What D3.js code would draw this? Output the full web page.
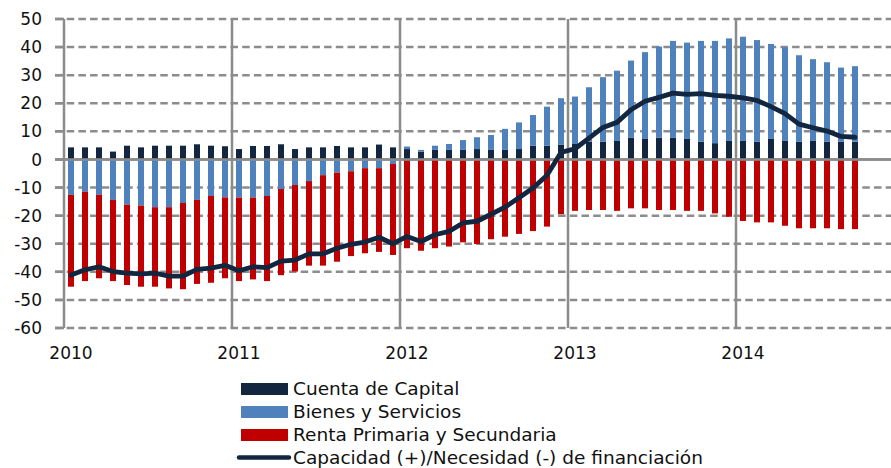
<!DOCTYPE html>
<html><head><meta charset="utf-8">
<script src="https://cdn.jsdelivr.net/npm/d3@7"></script>
<style>
html,body{margin:0;padding:0;background:#fff;}
svg{display:block;}
text{font-family:"DejaVu Sans",Verdana,sans-serif;fill:#111;}
</style></head>
<body>
<svg id="chart" width="891" height="468"></svg>
<script>
// Monthly data, Jan 2010 - Sep 2014
const startYear = 2010;
const yearLabels = ["2010","2011","2012","2013","2014"];
const yTicks = [50,40,30,20,10,0,-10,-20,-30,-40,-50,-60];
const capital = [
  4.3,4.3,4.3,2.8,4.9,4.3,4.9,4.9,4.9,5.4,4.9,4.7,
  3.7,4.8,4.8,5.4,3.7,4.3,4.3,4.8,4.3,4.3,5.3,4.3,
  3.7,2.8,3.4,3.4,3.4,3.7,3.4,3.4,3.7,4.9,4.9,5.2,
  5.5,6.3,6.3,6.6,7.8,7.3,7.8,7.8,7.3,6.3,5.8,6.6,
  6.6,6.3,7.3,6.6,6.3,6.6,6.3,6.3,6.3
];
const goods = [
  -12.6,-11.5,-12.6,-14.4,-16.1,-16.4,-17.0,-17.0,-15.5,-14.4,-13.0,-13.5,
  -13.6,-13.6,-13.0,-10.5,-9.1,-7.7,-5.6,-4.7,-4.2,-3.1,-3.1,-1.6,
  0.9,0.6,1.5,2.1,3.5,4.2,5.3,7.5,9.5,10.9,13.9,16.6,
  16.9,19.4,23.0,25.0,27.4,30.9,32.4,34.4,34.3,35.9,36.4,36.5,
  37.1,36.2,33.8,33.3,30.8,29.1,28.3,26.4,26.9
];
const renta = [
  -32.7,-31.8,-29.7,-28.9,-28.6,-28.9,-28.3,-28.9,-30.7,-29.9,-30.9,-28.8,
  -29.7,-29.1,-30.3,-30.7,-30.8,-30.1,-32.2,-31.7,-30.2,-30.3,-29.8,-32.4,
  -31.6,-32.5,-31.6,-31.0,-29.5,-30.1,-28.4,-27.5,-26.5,-25.5,-23.9,-19.5,
  -18.3,-18.0,-18.0,-18.3,-17.4,-17.4,-18.0,-18.0,-18.3,-18.3,-19.2,-20.4,
  -21.9,-22.4,-22.4,-23.6,-24.5,-24.5,-24.5,-24.8,-24.8
];
const financing = [
  -41.1,-39.3,-38.2,-39.9,-40.5,-40.7,-40.5,-41.5,-41.5,-39.1,-38.7,-37.7,
  -39.6,-38.2,-38.5,-36.2,-35.8,-33.6,-33.6,-31.6,-30.2,-29.4,-27.7,-30.0,
  -27.4,-29.2,-26.8,-25.6,-22.6,-22.0,-19.5,-17.0,-13.6,-10.2,-5.6,2.5,
  3.8,7.6,11.4,13.2,17.7,20.7,22.1,23.6,23.2,23.4,22.8,22.5,
  21.9,21.0,18.8,16.3,12.6,11.3,10.1,8.2,7.9
];
const seriesNames = ["Cuenta de Capital","Bienes y Servicios","Renta Primaria y Secundaria","Capacidad (+)/Necesidad (-) de financiación"];
const colors = {capital:"#13263f", goods:"#4f81bd", renta:"#c00000", line:"#13263f"};

const svg = d3.select("#chart");
const x = d3.scaleLinear().domain([0, 60]).range([64, 904]);
const y = d3.scaleLinear().domain([-60, 50]).range([328, 19]);
const gridColor = "#8c8c8c";
const barW = 6;

// horizontal dashed gridlines
svg.append("g").selectAll("line").data(yTicks).join("line")
  .attr("x1", 55).attr("x2", 891)
  .attr("y1", d => y(d)).attr("y2", d => y(d))
  .attr("stroke", gridColor).attr("stroke-width", 2.5)
  .attr("stroke-dasharray", d => d === 0 ? null : "7.5,4.2");

// left tick marks
svg.append("g").selectAll("line").data(yTicks).join("line")
  .attr("x1", 55).attr("x2", 64)
  .attr("y1", d => y(d)).attr("y2", d => y(d))
  .attr("stroke", gridColor).attr("stroke-width", 2.5);

// vertical year lines
svg.append("g").selectAll("line").data(d3.range(0, 5)).join("line")
  .attr("x1", d => x(d*12)).attr("x2", d => x(d*12))
  .attr("y1", y(50)).attr("y2", y(-60))
  .attr("stroke", gridColor).attr("stroke-width", 2.5);

// y labels
svg.append("g").selectAll("text").data(yTicks).join("text")
  .attr("x", 42).attr("y", d => y(d)).attr("dy", "0.36em")
  .attr("text-anchor", "end").attr("font-size", 17)
  .text(d => d);

// x labels
svg.append("g").selectAll("text").data(yearLabels).join("text")
  .attr("x", (d,i) => x(i*12 + 0.5)).attr("y", 359)
  .attr("text-anchor", "middle").attr("font-size", 17)
  .text(d => d);

// bars
const months = d3.range(capital.length);
const bars = svg.append("g");
months.forEach(i => {
  const cx = x(i + 0.5);
  const c = capital[i], g = goods[i], r = renta[i];
  const rects = [];
  rects.push({y0: 0, y1: c, col: colors.capital});
  if (g >= 0) {
    rects.push({y0: c, y1: c + g, col: colors.goods});
    rects.push({y0: 0, y1: r, col: colors.renta});
  } else {
    rects.push({y0: 0, y1: g, col: colors.goods});
    rects.push({y0: g, y1: g + r, col: colors.renta});
  }
  rects.forEach(rc => {
    bars.append("rect")
      .attr("x", cx - barW/2).attr("width", barW)
      .attr("y", y(Math.max(rc.y0, rc.y1)))
      .attr("height", Math.abs(y(rc.y0) - y(rc.y1)))
      .attr("fill", rc.col);
  });
});

// zero line on top of bars
svg.append("line").attr("x1", 55).attr("x2", 891)
  .attr("y1", y(0)).attr("y2", y(0))
  .attr("stroke", gridColor).attr("stroke-width", 2.5);

// financing line
svg.append("path").datum(financing)
  .attr("d", d3.line().x((d,i) => x(i + 0.5)).y(d => y(d)))
  .attr("fill", "none").attr("stroke", colors.line)
  .attr("stroke-width", 4.8).attr("stroke-linejoin", "round").attr("stroke-linecap", "round");

// legend
const leg = svg.append("g");
const legRows = [
  {name: seriesNames[0], type: "rect", col: colors.capital, cy: 389},
  {name: seriesNames[1], type: "rect", col: colors.goods, cy: 412},
  {name: seriesNames[2], type: "rect", col: colors.renta, cy: 435},
  {name: seriesNames[3], type: "line", col: colors.line, cy: 457.5}
];
legRows.forEach(r => {
  if (r.type === "rect") {
    leg.append("rect").attr("x", 241).attr("y", r.cy - 6).attr("width", 47).attr("height", 12).attr("fill", r.col);
  } else {
    leg.append("line").attr("x1", 239).attr("x2", 289).attr("y1", r.cy).attr("y2", r.cy)
      .attr("stroke", r.col).attr("stroke-width", 4.5).attr("stroke-linecap", "round");
  }
  leg.append("text").attr("transform", `translate(293,${r.cy}) scale(1.06,1)`)
    .attr("dy", "0.36em")
    .attr("font-size", 17.5).text(r.name);
});
</script>
</body></html>
